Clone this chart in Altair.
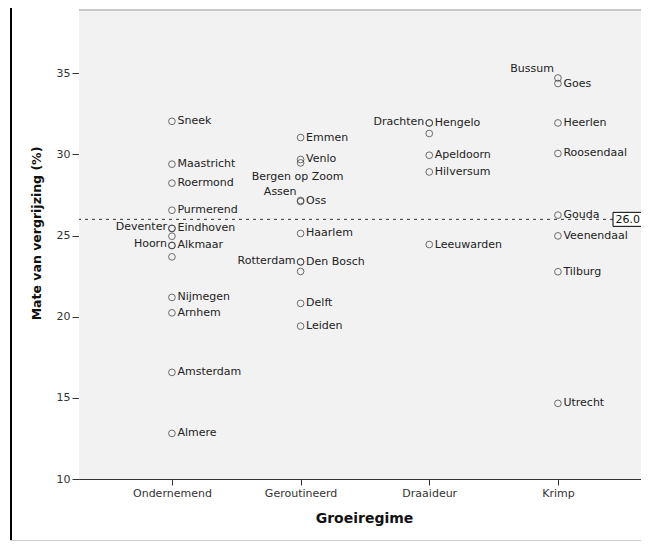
import altair as alt
import pandas as pd

GROUPS = ["Ondernemend", "Geroutineerd", "Draaideur", "Krimp"]

ONDERNEMEND_NAMES = ["Sneek", "Maastricht", "Roermond", "Purmerend", "Eindhoven", "Deventer", "",
                     "Hoorn", "Alkmaar", "", "Nijmegen", "Arnhem", "Amsterdam", "Almere"]
ONDERNEMEND_VALUES = [32.04, 29.40, 28.23, 26.56, 25.44, 25.44, 24.96,
                      24.39, 24.39, 23.69, 21.19, 20.24, 16.57, 12.81]

GEROUTINEERD_NAMES = ["Emmen", "Venlo", "Bergen op Zoom", "Oss", "Assen", "Haarlem",
                      "Den Bosch", "Rotterdam", "", "Delft", "Leiden"]
GEROUTINEERD_VALUES = [31.04, 29.69, 29.48, 27.16, 27.10, 25.13,
                       23.38, 23.38, 22.79, 20.82, 19.42]

DRAAIDEUR_NAMES = ["Hengelo", "Drachten", "", "Apeldoorn", "Hilversum", "Leeuwarden"]
DRAAIDEUR_VALUES = [31.94, 31.94, 31.29, 29.95, 28.92, 24.45]

KRIMP_NAMES = ["Bussum", "Goes", "Heerlen", "Roosendaal", "Gouda", "Veenendaal", "Tilburg", "Utrecht"]
KRIMP_VALUES = [34.71, 34.37, 31.94, 30.06, 26.26, 24.98, 22.77, 14.66]

LEFT_LABELS = ["Deventer", "Hoorn", "Rotterdam", "Drachten"]
LEFT_RAISED_LABELS = ["Bussum", "Assen"]
BELOW_LABELS = ["Bergen op Zoom"]

REF_VALUE = 26.0
REF_LABEL = "26.0"

rows = []
for g, names, vals in [
    ("Ondernemend", ONDERNEMEND_NAMES, ONDERNEMEND_VALUES),
    ("Geroutineerd", GEROUTINEERD_NAMES, GEROUTINEERD_VALUES),
    ("Draaideur", DRAAIDEUR_NAMES, DRAAIDEUR_VALUES),
    ("Krimp", KRIMP_NAMES, KRIMP_VALUES),
]:
    for n, v in zip(names, vals):
        if n == "":
            side = "none"
        elif n in LEFT_LABELS:
            side = "left"
        elif n in LEFT_RAISED_LABELS:
            side = "left_up"
        elif n in BELOW_LABELS:
            side = "below"
        else:
            side = "right"
        rows.append({"group": g, "city": n, "value": v, "side": side})
df = pd.DataFrame(rows)
ref_df = pd.DataFrame({"value": [REF_VALUE], "lbl": [REF_LABEL]})

FONT = "DejaVu Sans"
W, H = 562, 469

x_enc = alt.X(
    "group:N",
    scale=alt.Scale(type="point", domain=GROUPS, padding=0.684, align=0.528),
    axis=alt.Axis(
        title="Groeiregime", labelAngle=0, labelFont=FONT, labelFontSize=11,
        labelColor="#333", tickSize=6, tickColor="#333", domainColor="#333",
        labelPadding=2, titleFont=FONT, titleFontSize=14, titleFontWeight="bold",
        titleColor="#111", titleX=285, titleY=39, titleAlign="center",
        titleBaseline="middle", grid=False,
    ),
)
y_enc = alt.Y(
    "value:Q",
    scale=alt.Scale(domain=[10, 38.9], nice=False, zero=False),
    axis=alt.Axis(
        title="Mate van vergrijzing (%)", values=[10, 15, 20, 25, 30, 35],
        labelFont=FONT, labelFontSize=11, labelColor="#333", tickSize=7,
        tickColor="#333", domainColor="#333", labelPadding=2, labelFlush=False,
        titleFont=FONT, titleFontSize=12.5, titleFontWeight="bold", titleColor="#111",
        titleX=-43, titleY=223, titleAngle=270, titleAlign="center",
        titleBaseline="middle", grid=False,
    ),
)

base = alt.Chart(df)

points = base.mark_point(shape="circle", filled=False, size=45, color="#333", strokeWidth=1).encode(
    x=x_enc, y=y_enc
)

txt = dict(font=FONT, fontSize=11, color="#222", baseline="middle")
right_t = base.transform_filter("datum.side == 'right'").mark_text(align="left", dx=5.5, **txt).encode(
    x=x_enc, y=y_enc, text="city:N")
left_t = base.transform_filter("datum.side == 'left'").mark_text(align="right", dx=-5, dy=-1, **txt).encode(
    x=x_enc, y=y_enc, text="city:N")
leftup_t = base.transform_filter("datum.side == 'left_up'").mark_text(align="right", dx=-4, dy=-9, **txt).encode(
    x=x_enc, y=y_enc, text="city:N")
below_t = base.transform_filter("datum.side == 'below'").mark_text(align="center", dx=-3, dy=14, **txt).encode(
    x=x_enc, y=y_enc, text="city:N")

ref_rule = alt.Chart(ref_df).mark_rule(strokeDash=[3, 4], color="#333", strokeWidth=1).encode(
    y=y_enc
)
ref_box = alt.Chart(ref_df).mark_rect(fill="white", stroke="#000", strokeWidth=1, yOffset=-7, y2Offset=7).encode(
    x=alt.value(534), x2=alt.value(590), y=y_enc, y2=alt.Y2("value")
)
ref_text = alt.Chart(ref_df).mark_text(align="left", baseline="middle", font=FONT, fontSize=11, color="#111", dy=1).encode(
    x=alt.value(536.5), y=y_enc, text="lbl:N"
)

frame_df = pd.DataFrame({"a": [0]})
bg = alt.Chart(frame_df).mark_rect(color="#f2f2f2").encode(
    x=alt.value(0), x2=alt.value(W), y=alt.value(0), y2=alt.value(H))
top_line = alt.Chart(frame_df).mark_rule(color="#999", strokeWidth=1).encode(
    x=alt.value(0), x2=alt.value(W), y=alt.value(0))
left_frame = alt.Chart(frame_df).mark_rule(color="#000", strokeWidth=2).encode(
    x=alt.value(-68), y=alt.value(-2), y2=alt.value(531))
bottom_frame = alt.Chart(frame_df).mark_rule(color="#ccc", strokeWidth=1).encode(
    x=alt.value(-69), x2=alt.value(W), y=alt.value(530.5))

chart = alt.layer(
    bg, points, top_line, ref_rule, right_t, left_t, leftup_t, below_t, ref_box, ref_text,
    left_frame, bottom_frame,
).properties(
    width=W, height=H,
    autosize=alt.AutoSizeParams(type="none"),
    padding={"left": 71, "top": 2, "right": 0, "bottom": 62},
).configure_view(stroke="transparent").configure(background="white")

chart.save("out.html", embed_options={"renderer": "svg", "actions": False})
